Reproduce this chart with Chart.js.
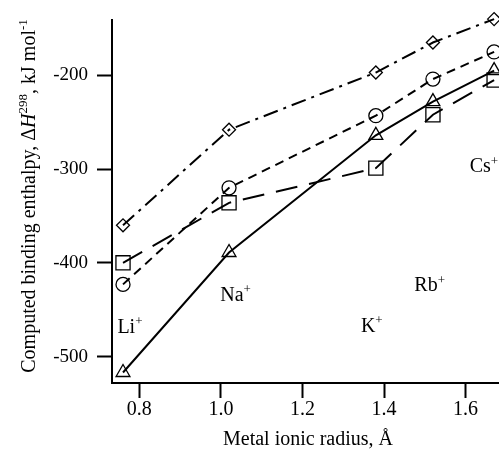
<!DOCTYPE html>
<html>
<head>
<meta charset="utf-8">
<script src="https://cdn.jsdelivr.net/npm/chart.js@4"></script>
<style>
  html, body { margin: 0; padding: 0; background: #fff; }
  #wrap { width: 499px; height: 450px; }
</style>
</head>
<body>
<div id="wrap"><canvas id="enthalpyChart" width="499" height="450"></canvas></div>
<script>
// ionic radius (Å) of each alkali metal cation
const radius = [0.76, 1.02, 1.38, 1.52, 1.67];
const ions = ['Li', 'Na', 'K', 'Rb', 'Cs'];

// computed binding enthalpies, kJ/mol
const diamondH = [-360, -258, -197, -165, -140];
const circleH = [-423, -320, -243, -204, -175];
const squareH = [-400, -336, -299, -242, -205];
const triangleH = [-517, -389, -264, -228, -195];

const xTicks = [0.8, 1.0, 1.2, 1.4, 1.6];
const yTicks = [-500, -400, -300, -200];

// where the ion names sit, in data units
const ionLabelX = [0.777, 1.036, 1.370, 1.512, 1.645];
const ionLabelY = [-467, -433, -466, -423, -296];

const serif = '"Liberation Serif", "Times New Roman", serif';

function toPoints(ys) {
    return radius.map((r, i) => ({ x: r, y: ys[i] }));
}

function series(ys, style, size, dash) {
    return {
        data: toPoints(ys),
        showLine: true,
        borderColor: '#000',
        borderWidth: 2,
        borderDash: dash,
        pointStyle: style,
        pointRadius: size,
        pointBorderWidth: 1.3,
        pointBorderColor: '#000',
        pointBackgroundColor: 'rgba(0,0,0,0)',
        clip: false
    };
}

// draw a run of text pieces, some italic or raised
function drawRich(ctx, parts, x, y, size) {
    const fontFor = p => (p.italic ? 'italic ' : '') + (p.sup ? Math.round(size * 0.66) : size) + 'px ' + serif;
    let total = 0;
    parts.forEach(p => { ctx.font = fontFor(p); total += ctx.measureText(p.t).width; });
    let cx = x - total / 2;
    ctx.textAlign = 'left';
    ctx.textBaseline = 'alphabetic';
    parts.forEach(p => {
        ctx.font = fontFor(p);
        ctx.fillText(p.t, cx, p.sup ? y - size * 0.38 : y);
        cx += ctx.measureText(p.t).width;
    });
}

const textPlugin = {
    id: 'textPlugin',
    afterDraw(chart) {
        const ctx = chart.ctx;
        const xs = chart.scales.x, ys = chart.scales.y;
        ctx.save();
        ctx.fillStyle = '#000';

        ions.forEach((ion, i) => {
            const px = xs.getPixelForValue(ionLabelX[i]);
            const py = ys.getPixelForValue(ionLabelY[i]);
            drawRich(ctx, [{ t: ion }, { t: '+', sup: true }], px, py + 7, 20);
        });

        drawRich(ctx, [{ t: 'Metal ionic radius, Å' }], 308, 445, 20);

        ctx.save();
        ctx.translate(35, 196);
        ctx.rotate(-Math.PI / 2);
        drawRich(ctx, [
            { t: 'Computed binding enthalpy, Δ' },
            { t: 'H', italic: true },
            { t: '298', sup: true },
            { t: ', kJ mol' },
            { t: '-1', sup: true }
        ], 0, 0, 20);
        ctx.restore();

        ctx.restore();
    }
};

new Chart(document.getElementById('enthalpyChart'), {
    type: 'scatter',
    data: {
        datasets: [
            series(diamondH, 'rectRot', 6.5, [15, 6, 3, 6]),
            series(circleH, 'circle', 7, [9, 6]),
            series(squareH, 'rect', 10, [22, 12]),
            series(triangleH, 'triangle', 8, [])
        ]
    },
    options: {
        responsive: false,
        animation: false,
        layout: { autoPadding: false, padding: { top: 20, right: 0, bottom: 0, left: 0 } },
        plugins: { legend: { display: false }, tooltip: { enabled: false } },
        scales: {
            x: {
                type: 'linear',
                min: 0.733,
                max: 1.682,
                afterFit(scale) { scale.height = 67; },
                afterBuildTicks(scale) { scale.ticks = xTicks.map(v => ({ value: v })); },
                border: { display: true, color: '#000', width: 2 },
                grid: { drawOnChartArea: false, drawTicks: true, tickLength: 15, tickWidth: 2, tickColor: '#000' },
                ticks: {
                    color: '#000',
                    padding: 0,
                    maxRotation: 0,
                    font: { family: serif, size: 20 },
                    callback: v => v.toFixed(1)
                }
            },
            y: {
                min: -528.2,
                max: -141.4,
                afterFit(scale) { scale.width = 112; },
                afterBuildTicks(scale) { scale.ticks = yTicks.map(v => ({ value: v })); },
                border: { display: true, color: '#000', width: 2 },
                grid: { drawOnChartArea: false, drawTicks: true, tickLength: 15, tickWidth: 2, tickColor: '#000' },
                ticks: {
                    color: '#000',
                    padding: 9,
                    font: { family: serif, size: 19 },
                    callback: v => String(v)
                }
            }
        }
    },
    plugins: [textPlugin]
});
</script>
</body>
</html>
